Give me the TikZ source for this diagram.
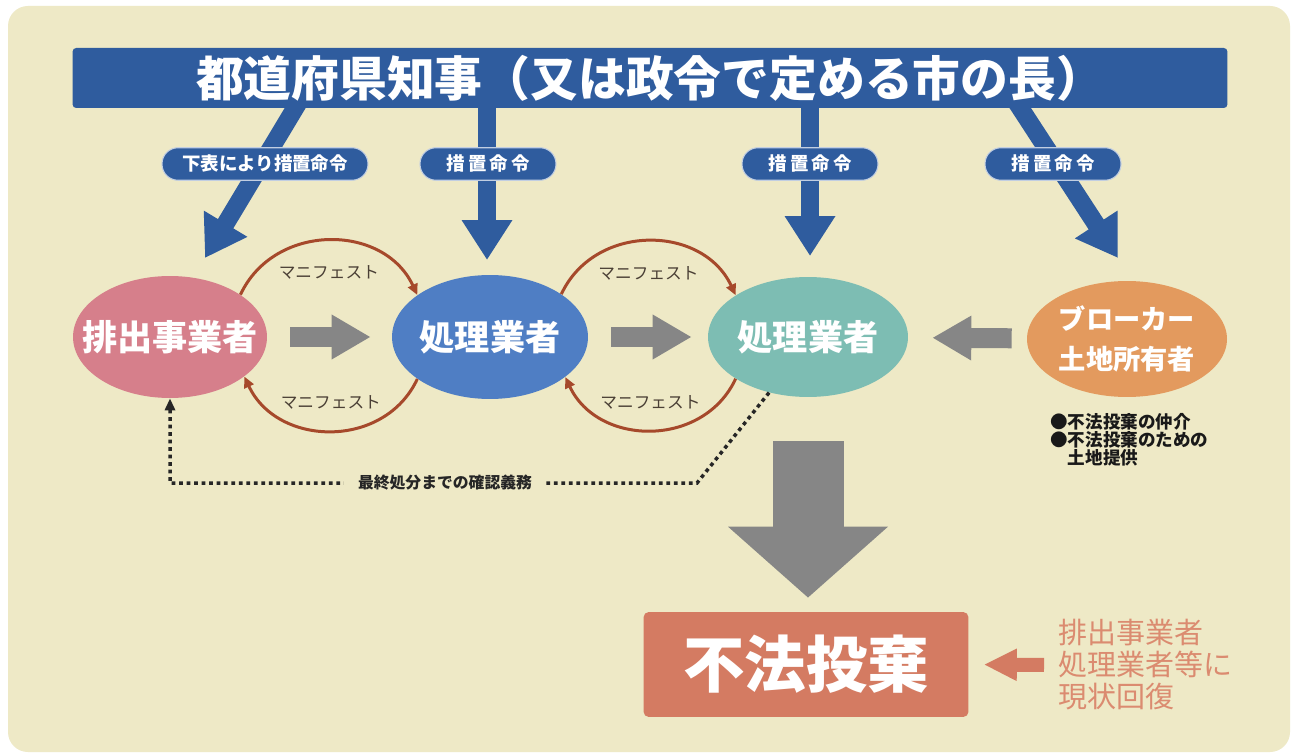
\documentclass[tikz,border=0pt]{standalone}
\usepackage{fontspec}
\newfontfamily\jp{Noto Sans CJK JP}
\usetikzlibrary{arrows.meta,shapes.geometric,calc}
\definecolor{bg}{HTML}{EEE9C6}
\definecolor{tblue}{HTML}{2F5C9E}
\definecolor{pinkE}{HTML}{D67F8B}
\definecolor{blueE}{HTML}{4F7EC4}
\definecolor{tealE}{HTML}{7DBDB3}
\definecolor{orangeE}{HTML}{E39A5E}
\definecolor{grayA}{HTML}{868686}
\definecolor{salmon}{HTML}{D47B62}
\definecolor{salmonT}{HTML}{DB8B70}
\definecolor{arcC}{HTML}{A6492B}
\definecolor{manT}{HTML}{4A3F35}
\tikzset{
  ell/.style={ellipse, inner sep=0pt, text=white, font=\jp\bfseries\fontsize{20}{22}\selectfont},
  pill/.style={fill=tblue, draw=white!70!tblue, line width=0.6pt, rounded corners=0.32cm, text=white, inner sep=0pt, minimum height=0.65cm, font=\jp\bfseries\fontsize{10.5}{12}\selectfont},
  bluearrow/.style={draw=tblue, line width=0.36cm, -{Triangle[width=0.96cm,length=0.8cm]}},
  grayarrow/.style={draw=grayA, line width=0.4cm, -{Triangle[width=0.84cm,length=0.78cm]}},
  arcline/.style={draw=arcC, line width=0.06cm, -{Triangle[width=0.2cm,length=0.22cm]}},
  mantext/.style={text=manT, font=\jp\fontsize{9.5}{10}\selectfont, inner sep=0pt},
  dotline/.style={draw=black!85, line width=0.07cm, dash pattern=on 0.075cm off 0.075cm, -{Triangle[width=0.2cm,length=0.24cm]}},
}
\begin{document}
\begin{tikzpicture}[x=0.02cm,y=-0.02cm]
\useasboundingbox (0,0) rectangle (1293,756);
\fill[white] (0,0) rectangle (1293,756);
\fill[bg, rounded corners=0.4cm] (8,6) rectangle (1290,752);

% governor bar
\coordinate (g1) at (300,100);
\coordinate (g2) at (487,100);
\coordinate (g3) at (810,100);
\coordinate (g4) at (1015,100);
\coordinate (t1) at (205,258);
\coordinate (t2) at (487,260);
\coordinate (t3) at (810,256);
\coordinate (t4) at (1118,258);
\draw[bluearrow] (g1) -- (t1);
\draw[bluearrow] (g2) -- (t2);
\draw[bluearrow] (g3) -- (t3);
\draw[bluearrow] (g4) -- (t4);
\node[fill=tblue, rounded corners=2pt, minimum width=23.1cm, minimum height=1.2cm, inner sep=0pt, text=white, font=\jp\bfseries\fontsize{27.2}{30}\selectfont] (gov) at (650,78) {都道府県知事（又は政令で定める市の長）};

% order labels
\node[pill, minimum width=4.12cm] (p1) at (265,164) {下表により措置命令};
\node[pill, minimum width=2.72cm] (p2) at (488,164) {措\,置\,命\,令};
\node[pill, minimum width=2.72cm] (p3) at (810,164) {措\,置\,命\,令};
\node[pill, minimum width=2.72cm] (p4) at (1053,164) {措\,置\,命\,令};

% ellipses
\node[ell, fill=pinkE, minimum width=3.88cm, minimum height=2.44cm] (e1) at (170,337) {\makebox[0pt]{排出事業者}};
\node[ell, fill=blueE, minimum width=3.92cm, minimum height=2.48cm] (e2) at (490,337) {\makebox[0pt]{処理業者}};
\node[ell, fill=tealE, minimum width=4.0cm, minimum height=2.4cm] (e3) at (808,337) {\makebox[0pt]{処理業者}};
\node[ell, fill=orangeE, minimum width=4.0cm, minimum height=2.32cm, align=center, font=\jp\bfseries\fontsize{15.5}{22.7}\selectfont] (e4) at (1127,339) {ブローカー\\土地所有者};

% gray flow arrows
\draw[grayarrow, shorten <=0.46cm, shorten >=0.42cm] (e1) -- (e2);
\draw[grayarrow, shorten <=0.46cm, shorten >=0.32cm] (e2) -- (e3);
\draw[grayarrow, shorten <=0.3cm, shorten >=0.48cm] (e4) -- (e3);

% manifests
\draw[arcline] (e1.31) to[out=65,in=115,looseness=1.15] node[mantext, midway, yshift=-0.64cm] {マニフェスト} (e2.150);
\draw[arcline] (e2.210) to[out=-115,in=-65,looseness=1.15] node[mantext, midway, yshift=0.56cm] {マニフェスト} (e1.332);
\draw[arcline] (e2.31) to[out=65,in=115,looseness=1.15] node[mantext, midway, yshift=-0.64cm] {マニフェスト} (e3.150);
\draw[arcline] (e3.210) to[out=-115,in=-65,looseness=1.15] node[mantext, midway, yshift=0.56cm] {マニフェスト} (e2.332);

% confirmation duty dotted line
\coordinate (c1) at (697,483);
\draw[dotline] (e3.235) -- (c1) -| (e1.south);
\node[fill=bg, inner xsep=0.28cm, inner ysep=2pt, text=black!85, font=\jp\bfseries\fontsize{9}{10}\selectfont] (dl) at (445,483) {最終処分までの確認義務};

% broker notes
\node[anchor=north west, align=left, inner sep=0pt, text=black!90, font=\jp\bfseries\fontsize{10}{10.2}\selectfont] (bn) at (1050,413) {●不法投棄の仲介\\●不法投棄のための\\\hphantom{●}土地提供};

% illegal dumping
\node[fill=salmon, rounded corners=3pt, minimum width=6.5cm, minimum height=2.1cm, inner sep=0pt, text=white, font=\jp\bfseries\fontsize{35}{40}\selectfont] (box) at (806,664.5) {不法投棄};
\draw[draw=grayA, line width=1.42cm, -{Triangle[width=3.12cm,length=1.42cm]}, shorten <=0.88cm, shorten >=0.28cm] (e3.south) -- (e3.south |- box.north);

\node[anchor=west, align=left, inner sep=0pt, text=salmonT, font=\jp\fontsize{16.5}{18.2}\selectfont] (rest) at (1058,665) {排出事業者\\処理業者等に\\現状回復};
\draw[draw=salmon, line width=0.28cm, -{Triangle[width=0.6cm,length=0.66cm]}, shorten <=0.28cm, shorten >=0.3cm] (rest.west) -- (box.east);
\end{tikzpicture}
\end{document}
